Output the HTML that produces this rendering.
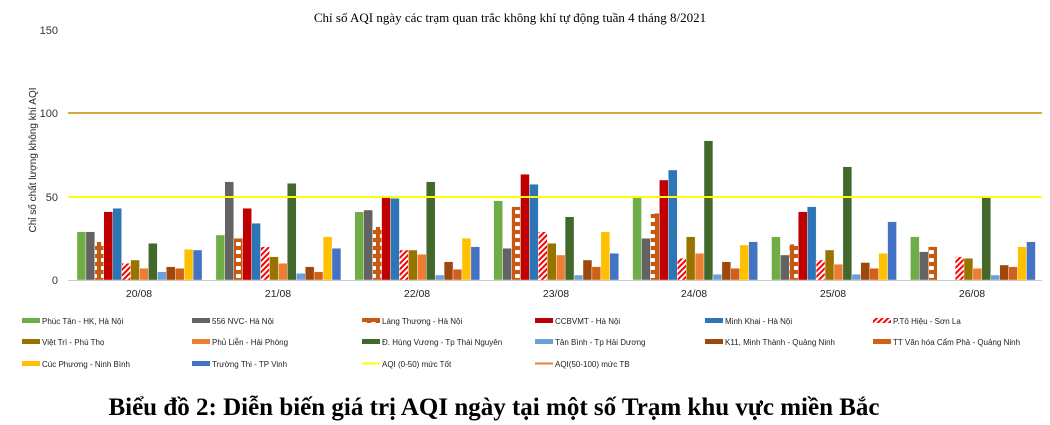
<!DOCTYPE html>
<html><head><meta charset="utf-8"><style>
body{margin:0;background:#fff;width:1050px;height:425px;overflow:hidden;font-family:"Liberation Sans",sans-serif}
</style></head><body>
<svg id="s" width="1050" height="425" xmlns="http://www.w3.org/2000/svg" style="position:absolute;left:0;top:0">
<defs>
<pattern id="lt" width="9" height="8" patternUnits="userSpaceOnUse"><rect width="9" height="8" fill="#c55a11"/><rect x="2" y="2" width="5" height="4" fill="#fff" rx="1"/></pattern>
<pattern id="pt" width="4" height="4" patternUnits="userSpaceOnUse" patternTransform="rotate(45)"><rect width="4" height="4" fill="#fff"/><rect width="2" height="4" fill="#ff0000"/></pattern>
</defs>
<text x="510" y="22" font-family="Liberation Serif,serif" font-size="13" text-anchor="middle">Chỉ số AQI ngày các trạm quan trắc không khí tự động tuần 4 tháng 8/2021</text>
<g font-size="11" text-anchor="end" fill="#333">
<text x="58" y="34">150</text><text x="58" y="117">100</text><text x="58" y="201">50</text><text x="58" y="284">0</text></g>
<text transform="translate(36,160) rotate(-90)" font-size="10" text-anchor="middle" fill="#222">Chỉ số chất lượng không khí AQI</text>
<line x1="68" y1="113" x2="1042" y2="113" stroke="#c09000" stroke-width="1.5"/>
<g id="bars"></g>
<line x1="68" y1="197" x2="1042" y2="197" stroke="#ffff00" stroke-width="2"/>
<line x1="68" y1="280.5" x2="1042" y2="280.5" stroke="#ccc"/>
<g font-size="10.5" text-anchor="middle" fill="#222">
<text x="139" y="297">20/08</text><text x="278" y="297">21/08</text><text x="417" y="297">22/08</text><text x="556" y="297">23/08</text><text x="694" y="297">24/08</text><text x="833" y="297">25/08</text><text x="972" y="297">26/08</text></g>
<g font-size="8" fill="#222">
<rect x="22" y="318" width="18" height="5" fill="#70ad47"/><text x="42" y="324">Phúc Tân - HK, Hà Nội</text>
<rect x="192" y="318" width="18" height="5" fill="#636363"/><text x="212" y="324">556 NVC- Hà Nội</text>
<rect x="362" y="318" width="18" height="5" fill="url(#lt)"/><text x="382" y="324">Láng Thượng - Hà Nội</text>
<rect x="535" y="318" width="18" height="5" fill="#c00000"/><text x="555" y="324">CCBVMT - Hà Nội</text>
<rect x="705" y="318" width="18" height="5" fill="#2e75b6"/><text x="725" y="324">Minh Khai - Hà Nội</text>
<rect x="873" y="318" width="18" height="5" fill="url(#pt)"/><text x="893" y="324">P.Tô Hiệu - Sơn La</text>
<rect x="22" y="339" width="18" height="5" fill="#997300"/><text x="42" y="345">Việt Trì  - Phú Thọ</text>
<rect x="192" y="339" width="18" height="5" fill="#ed7d31"/><text x="212" y="345">Phủ Liễn - Hải Phòng</text>
<rect x="362" y="339" width="18" height="5" fill="#43682b"/><text x="382" y="345">Đ. Hùng Vương - Tp Thái Nguyên</text>
<rect x="535" y="339" width="18" height="5" fill="#6f9fd8"/><text x="555" y="345">Tân Bình - Tp Hải Dương</text>
<rect x="705" y="339" width="18" height="5" fill="#9e480e"/><text x="725" y="345">K11, Minh Thành - Quảng Ninh</text>
<rect x="873" y="339" width="18" height="5" fill="#d0601a"/><text x="893" y="345">TT Văn hóa Cẩm Phả - Quảng Ninh</text>
<rect x="22" y="361" width="18" height="5" fill="#ffc000"/><text x="42" y="367">Cúc Phương - Ninh Bình</text>
<rect x="192" y="361" width="18" height="5" fill="#4472c4"/><text x="212" y="367">Trường Thi - TP Vinh</text>
<line x1="362" y1="363.5" x2="380" y2="363.5" stroke="#ffff00" stroke-width="2"/><text x="382" y="367">AQI (0-50) mức Tốt</text>
<line x1="535" y1="363.5" x2="553" y2="363.5" stroke="#ed7d31" stroke-width="2"/><text x="555" y="367">AQI(50-100) mức TB</text>
</g>
<text x="494" y="415" font-family="Liberation Serif,serif" font-size="25" font-weight="bold" text-anchor="middle">Biểu đồ 2: Diễn biến giá trị AQI ngày tại một số Trạm khu vực miền Bắc</text>
</svg>
<script>
var cols=["#70ad47","#636363","url(#lt)","#c00000","#2e75b6","url(#pt)","#997300","#ed7d31","#43682b","#6f9fd8","#9e480e","#d0601a","#ffc000","#4472c4"];
var d=[[29,29,23,41,43,10,12,7,22,5,8,7,18.5,18],
[27,59,25,43,34,20,14,10,58,4,8,5,26,19],
[41,42,32,50,49,18,18,15.5,59,3,11,6.5,25,20],
[47.5,19,44,63.5,57.5,29,22,15,38,3,12,8,29,16],
[50,25,40,60,66,13,26,16,83.5,3.5,11,7,21,23],
[26,15,21.5,41,44,12,18,9.5,68,3.5,10.5,7,16,35],
[26,17,20,0,0,14,13,7,50,3,9,8,20,23]];
var h="",gw=138.9,bw=8.93;
for(var g=0;g<7;g++)for(var i=0;i<14;i++){var v=d[g][i];if(!v)continue;var x=70+g*gw+7+i*bw,hh=v*250/150;
h+='<rect x="'+x.toFixed(1)+'" y="'+(280-hh).toFixed(1)+'" width="'+bw.toFixed(2)+'" height="'+hh.toFixed(1)+'" fill="'+cols[i]+'" stroke="#fff" stroke-width="0.4"/>';}
document.getElementById("bars").innerHTML=h;
</script>
</body></html>
